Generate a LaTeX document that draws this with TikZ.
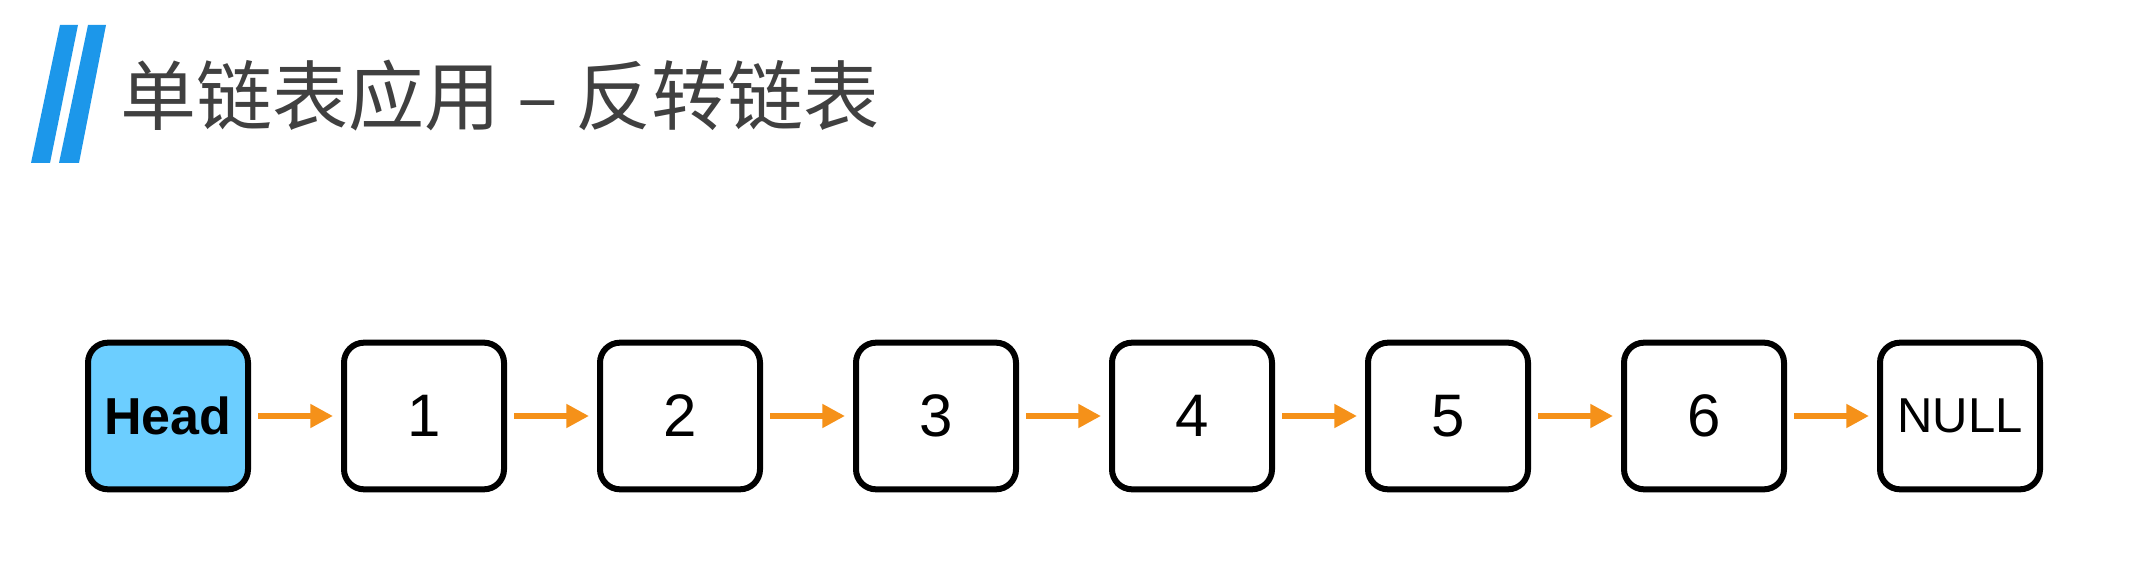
\documentclass[tikz,border=0pt]{standalone}
\usepackage{fontspec}
\setmainfont{Liberation Sans}
\newfontfamily\cjkfont{Noto Sans CJK SC}
\usepackage{tikz}
\usetikzlibrary{arrows.meta}

\definecolor{barblue}{RGB}{28,151,234}
\definecolor{headblue}{RGB}{108,206,255}
\definecolor{linkorange}{RGB}{245,145,25}
\definecolor{titlegray}{RGB}{64,64,64}

\tikzset{
  listnode/.style={draw=black, line width=4.5pt, rounded corners=15pt, minimum width=120pt, minimum height=110pt, inner sep=0pt, fill=white, font=\fontsize{45}{45}\selectfont},
  headnode/.style={listnode, fill=headblue, font=\fontsize{39}{39}\selectfont\bfseries},
  nullnode/.style={listnode, font=\fontsize{36.75}{37}\selectfont},
  link/.style={draw=linkorange, line width=4.5pt, -{Triangle[length=17pt,width=17pt]}, shorten <=5.25pt, shorten >=6pt},
}

\begin{document}
\begin{tikzpicture}[x=0.75pt,y=0.75pt,yscale=-1,xscale=1]
\useasboundingbox (0,0) rectangle (2141,580); %page of 2141 x 580

%Shape: Bars [id:bar1]
\fill[barblue] (60,25) -- (78,25) -- (50,163) -- (31,163) -- cycle ;
%Shape: Bars [id:bar2]
\fill[barblue] (88,25) -- (106,25) -- (79,163) -- (59,163) -- cycle ;

% Text Node
\node (title) at (120,125) [anchor=base west, inner sep=0pt, text=titlegray, font=\cjkfont\fontsize{57}{57}\selectfont] {单链表应用 – 反转链表};

% List Nodes
\node (head) at (168,416) [headnode] {Head};
\node (n1) at (424,416) [listnode] {1};
\node (n2) at (680,416) [listnode] {2};
\node (n3) at (936,416) [listnode] {3};
\node (n4) at (1192,416) [listnode] {4};
\node (n5) at (1448,416) [listnode] {5};
\node (n6) at (1704,416) [listnode] {6};
\node (null) at (1960,416) [nullnode] {NULL};

% Links
\draw[link] (head) -- (n1);
\draw[link] (n1) -- (n2);
\draw[link] (n2) -- (n3);
\draw[link] (n3) -- (n4);
\draw[link] (n4) -- (n5);
\draw[link] (n5) -- (n6);
\draw[link] (n6) -- (null);

\end{tikzpicture}
\end{document}
